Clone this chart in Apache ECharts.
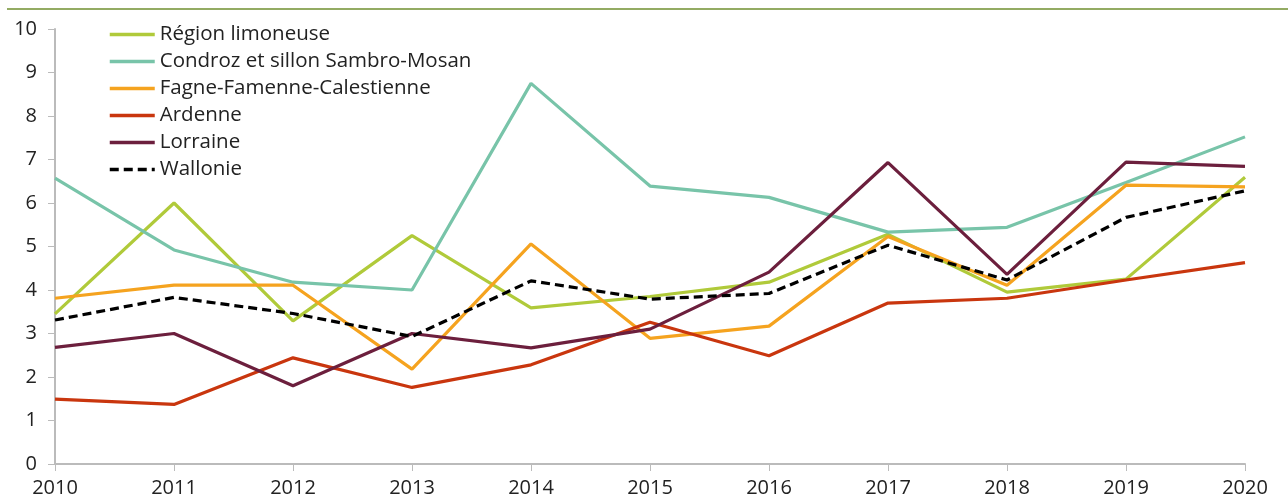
<!DOCTYPE html>
<html>
<head>
<meta charset="utf-8">
<script src="https://cdn.jsdelivr.net/npm/echarts@6/dist/echarts.min.js"></script>
<style>
  html, body { margin: 0; padding: 0; background: #fff; }
  #chart { width: 1288px; height: 504px; }
</style>
</head>
<body>
<div id="chart"></div>
<script>
var years = ['2010', '2011', '2012', '2013', '2014', '2015', '2016', '2017', '2018', '2019', '2020'];

var limoneuse = [3.45, 6.0, 3.29, 5.25, 3.59, 3.85, 4.18, 5.28, 3.95, 4.25, 6.59];
var condroz   = [6.57, 4.92, 4.18, 4.0, 8.75, 6.39, 6.13, 5.33, 5.44, 6.47, 7.52];
var fagne     = [3.81, 4.11, 4.11, 2.18, 5.06, 2.89, 3.17, 5.23, 4.11, 6.41, 6.37];
var ardenne   = [1.49, 1.37, 2.44, 1.76, 2.28, 3.26, 2.49, 3.70, 3.81, 4.23, 4.63];
var lorraine  = [2.68, 3.0, 1.80, 3.0, 2.67, 3.10, 4.41, 6.93, 4.36, 6.94, 6.84];
var wallonie  = [3.31, 3.83, 3.46, 2.93, 4.21, 3.79, 3.92, 5.03, 4.23, 5.67, 6.28];

var chart = echarts.init(document.getElementById('chart'));

function mkLine(name, data, color, dashed) {
  return {
    name: name,
    type: 'line',
    data: data,
    symbol: 'none',
    silent: true,
    lineStyle: { color: color, width: 3.2, type: dashed ? [9, 5] : 'solid' },
    itemStyle: { color: color }
  };
}

var option = {
  animation: false,
  textStyle: { fontFamily: 'Open Sans', color: '#222' },
  graphic: [{
    type: 'line',
    shape: { x1: 7, y1: 9, x2: 1288, y2: 9 },
    style: { stroke: '#93ab63', lineWidth: 2 }
  }],
  grid: { left: 55, right: 43, top: 29, bottom: 40 },
  legend: {
    orient: 'vertical',
    left: 103,
    top: 19,
    itemWidth: 45,
    itemHeight: 14,
    itemGap: 6,
    itemStyle: { opacity: 0 },
    lineStyle: { width: 3.5 },
    textStyle: { fontSize: 20.5, color: '#222', fontFamily: 'Open Sans' },
    data: ['Région limoneuse', 'Condroz et sillon Sambro-Mosan', 'Fagne-Famenne-Calestienne', 'Ardenne', 'Lorraine', 'Wallonie']
  },
  xAxis: {
    type: 'category',
    data: years,
    boundaryGap: false,
    axisLine: { lineStyle: { color: '#bbbbbb', width: 2 } },
    axisTick: { show: true, length: 7, lineStyle: { color: '#bbbbbb', width: 1 } },
    axisLabel: { fontSize: 20, color: '#222', margin: 14 },
    splitLine: { show: false }
  },
  yAxis: {
    type: 'value',
    min: 0,
    max: 10,
    interval: 1,
    axisLine: { show: true, lineStyle: { color: '#bbbbbb', width: 2 } },
    axisTick: { show: true, length: 7, lineStyle: { color: '#bbbbbb', width: 1 } },
    axisLabel: { fontSize: 20, color: '#222', margin: 18 },
    splitLine: { show: false }
  },
  series: [
    mkLine('Région limoneuse', limoneuse, '#b0ca3a'),
    mkLine('Condroz et sillon Sambro-Mosan', condroz, '#78c4a9'),
    mkLine('Fagne-Famenne-Calestienne', fagne, '#f5a31f'),
    mkLine('Ardenne', ardenne, '#c9360e'),
    mkLine('Lorraine', lorraine, '#6c1f3d'),
    mkLine('Wallonie', wallonie, '#000000', true)
  ]
};

chart.setOption(option);
</script>
</body>
</html>
